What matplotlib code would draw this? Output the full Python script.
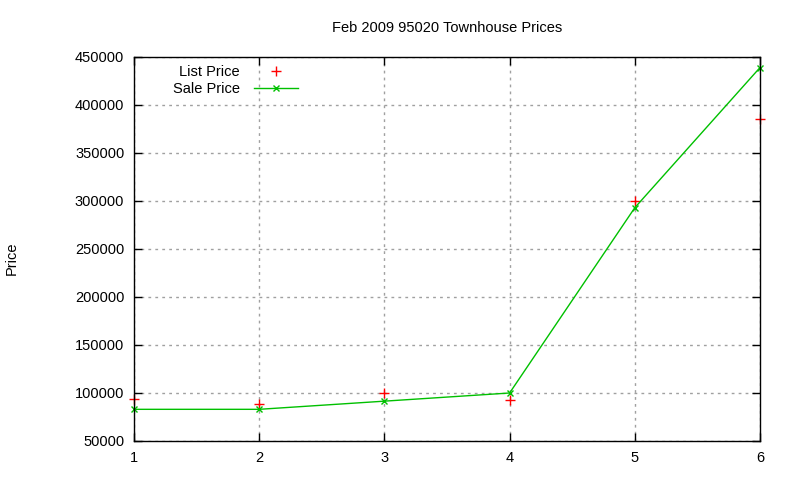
import matplotlib
matplotlib.use('Agg')
import matplotlib.pyplot as plt

plt.rcParams['font.family'] = ['Liberation Sans', 'DejaVu Sans']
fs = 10.5

x = [1, 2, 3, 4, 5, 6]
list_price = [94000, 89000, 100000, 93000, 300000, 385000]
sale_price = [83000, 83000, 91500, 100000, 293000, 439000]

fig = plt.figure(figsize=(8, 4.8), dpi=100)
ax = fig.add_axes([0.1675, 0.08125, 0.7825, 0.8])

ax.plot(x, list_price, '+', color='#ff0000', ms=7, mew=1, label='List Price', clip_on=False, zorder=2.3)
ax.plot(x, sale_price, '-x', color='#00c000', ms=5, mew=1, lw=1, label='Sale Price', clip_on=False, zorder=2.3)

ax.set_xlim(1, 6)
ax.set_ylim(50000, 450000)
ax.set_xticks(x)
ax.set_yticks(range(50000, 450001, 50000))
ax.grid(True, color='#a0a0a0', linestyle=(0, (2, 3)), lw=1)
ax.tick_params(direction='in', top=True, right=True, length=6, width=1, pad=7, labelsize=fs)
for s in ax.spines.values():
    s.set_linewidth(1)
    s.set_zorder(3)

ax.set_title('Feb 2009 95020 Townhouse Prices', fontsize=fs, pad=18)
ax.set_ylabel('Price', fontsize=fs, va='center')
ax.yaxis.set_label_coords(-0.195, 0.477)

leg = ax.legend(loc='upper left', bbox_to_anchor=(0.041, 1.014), frameon=False, markerfirst=False,
                handlelength=3.0, handletextpad=1.0, labelspacing=0.25, fontsize=fs)
for t in leg.get_texts():
    t.set_ha('right')

fig.savefig('out.png', dpi=100)
